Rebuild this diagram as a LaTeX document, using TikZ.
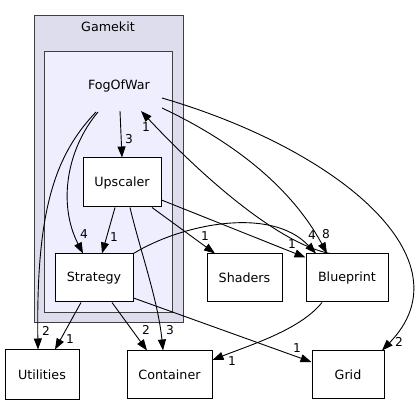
\documentclass[tikz,border=0pt]{standalone}
\usepackage{fontspec}
\setmainfont{DejaVu Sans}
\usetikzlibrary{arrows.meta}
\begin{document}
\begin{tikzpicture}[x=1pt,y=-1pt,
  box/.style={draw=black, fill=white, line width=1pt, inner sep=0pt, font=\fontsize{12.7}{15}\selectfont},
  dep/.style={line width=0.9pt, -{Triangle[length=11pt,width=8pt]}},
  lbl/.style={inner sep=0pt, font=\fontsize{12.2}{14}\selectfont},
  ttl/.style={inner sep=0pt, font=\fontsize{12.7}{15}\selectfont}]
\useasboundingbox (0,0) rectangle (416,404);
% clusters
\draw[fill={rgb,255:red,221;green,221;blue,238}, draw={rgb,255:red,64;green,64;blue,64}, line width=1pt] (34,16) rectangle (183,323);
\draw[fill={rgb,255:red,238;green,238;blue,255}, draw={rgb,255:red,64;green,64;blue,64}, line width=1pt] (44.5,52) rectangle (172.5,312.5);
\node[ttl] (gk) at (108,27) {Gamekit};
\node[ttl] (fog) at (119,86) {FogOfWar};
\coordinate (fogU) at (120,111);
\coordinate (fogS) at (98,112);
\coordinate (fogT) at (96,112);
\coordinate (fogB) at (162,108);
\coordinate (fogG) at (162,98);
\coordinate (fogIn) at (141,111);
% nodes
\node[box, minimum width=78pt, minimum height=49pt] (up) at (122,182.5) {Upscaler};
\node[box, minimum width=78pt, minimum height=48pt] (st) at (94,278) {Strategy};
\node[box, minimum width=74pt, minimum height=49pt] (ut) at (42,374.5) {Utilities};
\node[box, minimum width=85pt, minimum height=47pt] (ct) at (169.5,374.5) {Container};
\node[box, minimum width=75pt, minimum height=48pt] (sh) at (244.5,278) {Shaders};
\node[box, minimum width=82pt, minimum height=48pt] (bp) at (347,278) {Blueprint};
\node[box, minimum width=72pt, minimum height=47pt] (gr) at (348,374.5) {Grid};
% edges
\draw[dep] (fogU) -- (up.north);
\draw[dep] (fogS) .. controls (66,150) and (58,205) .. ([shift={(-11,0)}]st.north);
\draw[dep] (fogT) .. controls (55,155) and (36,210) .. ([shift={(-4,0)}]ut.north);
\draw[dep] ([shift={(-7,0)}]up.south) -- ([shift={(8,0)}]st.north);
\draw[dep] ([shift={(8,0)}]up.south) .. controls (140,250) and (158,300) .. ([shift={(-6.5,0)}]ct.north);
\draw[dep] ([shift={(30,0)}]up.south) -- ([shift={(-29.5,0)}]sh.north);
\draw[dep] ([shift={(0,17.5)}]up.east) -- ([shift={(0,4)}]bp.north west);
\draw[dep] (st.north east) .. controls (180,225) and (270,205) .. ([shift={(-31,0)}]bp.north);
\draw[dep] (fogB) .. controls (230,140) and (290,185) .. ([shift={(-20,0)}]bp.north);
\draw[dep] ([shift={(-17,0)}]bp.north) .. controls (285,245) and (215,190) .. (fogIn);
\draw[dep] (fogG) .. controls (340,150) and (470,260) .. ([shift={(34,0)}]gr.north);
\draw[dep] ([shift={(18,0)}]st.south) -- ([shift={(-22.5,0)}]ct.north);
\draw[dep] ([shift={(-13,0)}]st.south) -- ([shift={(13,0)}]ut.north);
\draw[dep] ([shift={(0,20)}]st.east) -- ([shift={(0,-12.5)}]gr.west);
\draw[dep] ([shift={(-25,0)}]bp.south) .. controls (300,330) and (250,345) .. ([shift={(0,-14.5)}]ct.east);
% labels
\node[lbl] (l1) at (129,139) {3};
\node[lbl] (l2) at (84,234) {4};
\node[lbl] (l3) at (46,331) {2};
\node[lbl] (l4) at (114,237) {1};
\node[lbl] (l5) at (170,330) {3};
\node[lbl] (l6) at (205,236) {1};
\node[lbl] (l7) at (292,244) {1};
\node[lbl] (l8) at (312,235) {4};
\node[lbl] (l9) at (326,234) {8};
\node[lbl] (l10) at (146,127) {1};
\node[lbl] (l11) at (399,342) {2};
\node[lbl] (l12) at (146,330) {2};
\node[lbl] (l13) at (70,339) {1};
\node[lbl] (l14) at (297,348) {1};
\node[lbl] (l15) at (232,361) {1};
\end{tikzpicture}
\end{document}
